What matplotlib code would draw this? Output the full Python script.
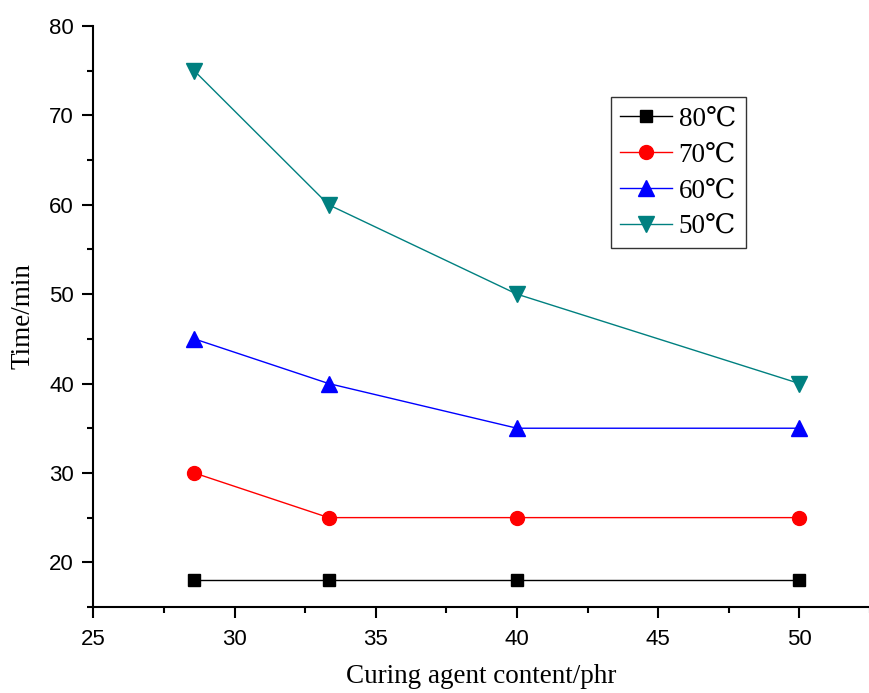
import matplotlib
matplotlib.use('Agg')
import matplotlib.pyplot as plt

# curing agent content (phr) and gel time (min) at each temperature
content = [28.57, 33.33, 40.0, 50.0]
t80 = [18, 18, 18, 18]
t70 = [30, 25, 25, 25]
t60 = [45, 40, 35, 35]
t50 = [75, 60, 50, 40]

serif = ['Liberation Serif', 'DejaVu Serif']

fig = plt.figure(figsize=(8.7, 6.93), dpi=100)
ax = fig.add_axes([0.1073, 0.1241, 0.8927, 0.8384])

ax.plot(content, t80, color='black', marker='s', ms=9, lw=1, label='80℃')
ax.plot(content, t70, color='red', marker='o', ms=10, lw=1, label='70℃')
ax.plot(content, t60, color='blue', marker='^', ms=11, lw=1, label='60℃')
ax.plot(content, t50, color='#008080', marker='v', ms=11, lw=1, label='50℃')

ax.set_xlim(25, 52.3)
ax.set_ylim(15, 80)
ax.set_xticks([25, 30, 35, 40, 45, 50])
ax.set_xticks([27.5, 32.5, 37.5, 42.5, 47.5, 52.5], minor=True)
ax.set_yticks([20, 30, 40, 50, 60, 70, 80])
ax.set_yticks([15, 25, 35, 45, 55, 65, 75], minor=True)

for side in ['top', 'right']:
    ax.spines[side].set_visible(False)
for side in ['left', 'bottom']:
    ax.spines[side].set_linewidth(1.5)
ax.tick_params(which='major', direction='out', length=8, width=1.5,
               labelsize=16, pad=6)
ax.tick_params(axis='x', which='major', pad=8)
ax.tick_params(which='minor', direction='out', length=4.5, width=1.5)
for lab in ax.get_xticklabels() + ax.get_yticklabels():
    lab.set_family('Liberation Sans')

ax.set_xlabel('Curing agent content/phr', family=serif, fontsize=19.5, labelpad=10)
ax.set_ylabel('Time/min', family=serif, fontsize=19.5, labelpad=10)

leg = ax.legend(loc='upper left', bbox_to_anchor=(0.7023, 0.860),
                bbox_transform=fig.transFigure, borderaxespad=0,
                prop={'family': serif, 'size': 19.5}, fancybox=False,
                frameon=True, handlelength=1.9, labelspacing=0.4,
                borderpad=0.35, handletextpad=0.25)
leg.get_frame().set_edgecolor('black')
leg.get_frame().set_linewidth(1)

fig.savefig('out.png', dpi=100)
